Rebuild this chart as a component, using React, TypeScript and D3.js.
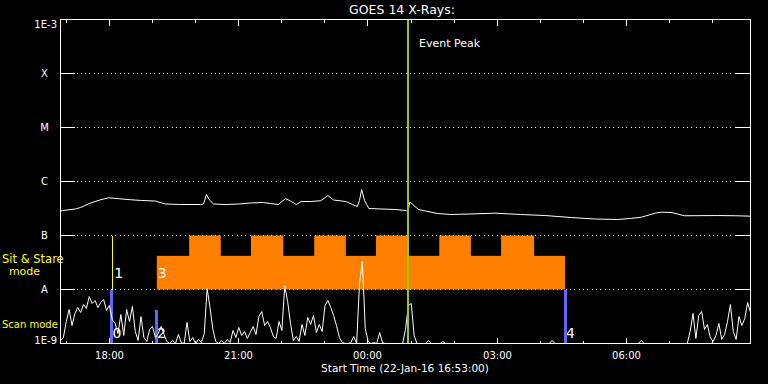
import React from "react";
import * as d3 from "d3";

// ---------- DATA ----------
const START_TIME = "2016-01-22 16:53";
const END_TIME = "2016-01-23 08:53";

const levelValues = [1e-3, 1e-4, 1e-5, 1e-6, 1e-7, 1e-8, 1e-9];
const levelLabels = ["1E-3", "X", "M", "C", "B", "A", "1E-9"];

// long channel (minutes after start, flux W/m^2)
const longMinutes = [0, 3, 21, 28, 42, 56, 67, 81, 97, 113, 132, 146, 167, 195, 199, 203, 207, 213, 230, 248, 264, 281, 292, 303, 313, 320, 328, 335, 348, 362, 372, 380, 397, 406, 413, 416, 419, 423, 429, 445, 466, 481, 483, 486, 490, 498, 508, 525, 543, 570, 604, 640, 675, 711, 744, 775, 793, 808, 828, 836, 850, 868, 914, 939, 960];
const longFlux = [2.8e-7, 2.9e-7, 3.1e-7, 3.3e-7, 4.0e-7, 4.6e-7, 5.0e-7, 4.8e-7, 4.6e-7, 4.45e-7, 4.35e-7, 3.83e-7, 3.75e-7, 3.75e-7, 3.83e-7, 5.74e-7, 4.6e-7, 3.83e-7, 3.75e-7, 3.83e-7, 4.0e-7, 4.08e-7, 3.92e-7, 3.75e-7, 4.84e-7, 4.35e-7, 3.75e-7, 4.26e-7, 4.26e-7, 4.4e-7, 5.5e-7, 4.54e-7, 4.26e-7, 3.75e-7, 3.44e-7, 4.45e-7, 7.1e-7, 4.45e-7, 3.16e-7, 3.1e-7, 3.03e-7, 2.9e-7, 2.7e-7, 4.17e-7, 3.75e-7, 3.03e-7, 2.84e-7, 2.55e-7, 2.45e-7, 2.5e-7, 2.59e-7, 2.45e-7, 2.34e-7, 2.15e-7, 2.02e-7, 1.98e-7, 2.07e-7, 2.18e-7, 2.61e-7, 2.7e-7, 2.67e-7, 2.32e-7, 2.34e-7, 2.32e-7, 2.28e-7];

// short channel, one sample every 4 minutes from start, in units of 1E-9 W/m^2
const shortStepMinutes = 4;
const shortFlux_nW = [
  1.14, 1.29, 2.55, 4.26, 2.15, 3.59, 4.64, 3.75, 5.27, 4.45,
  7.42, 5.50, 6.25, 4.64, 5.74, 6.52, 4.08, 5.05, 2.78, 2.35,
  1.53, 3.44, 1.41, 4.26, 2.55, 4.84, 1.67, 1.14, 3.16, 1.29,
  1.09, 1.82, 2.06, 1.29, 1.53, 2.06, 1.47, 1.09, 0.6, 1.14,
  0.6, 1.47, 1.04, 0.6, 2.45, 1.09, 1.29, 0.6, 1.19, 1.04,
  1.53, 10.4, 4.64, 1.82, 1.09, 0.6, 1.14, 0.6, 1.19, 1.04,
  1.74, 1.29, 1.98, 1.41, 1.67, 1.24, 1.60, 2.06, 1.47, 3.16,
  3.91, 2.15, 2.55, 1.98, 1.35, 1.24, 2.55, 1.74, 11.8, 5.99,
  2.35, 1.14, 1.35, 1.09, 2.25, 1.41, 3.03, 2.25, 3.30, 1.60,
  2.25, 1.67, 5.05, 6.25, 4.64, 3.30, 2.15, 1.29, 1.04, 0.6,
  0.6, 1.04, 1.35, 0.6, 12.9, 33.0, 1.90, 1.09, 0.6, 1.04,
  0.6, 1.60, 1.04, 0.6, 0.6, 0.6, 0.6, 0.6, 0.6, 0.6,
  1.82, 5.05, 5.50, 1.41, 0.6, 0.6, 0.6, 0.6, 1.14, 0.6,
  0.6, 0.6, 0.6, 1.09, 0.6, 0.6, 0.6, 0.6, 0.6, 0.6,
  0.6, 0.6, 0.6, 0.6, 0.6, 0.6, 0.6, 0.6, 0.6, 0.6,
  0.6, 0.6, 0.6, 0.6, 0.6, 0.6, 0.6, 0.6, 0.6, 0.6,
  0.6, 0.6, 0.6, 0.6, 0.6, 0.6, 0.6, 0.6, 0.6, 0.6,
  0.6, 1.14, 0.6, 0.6, 0.6, 0.6, 0.6, 0.6, 0.6, 0.6,
  0.6, 0.6, 0.6, 0.6, 0.6, 0.6, 0.6, 0.6, 0.6, 0.6,
  0.6, 0.6, 0.6, 0.6, 0.6, 0.6, 0.6, 0.6, 0.6, 0.6,
  0.6, 0.6, 1.14, 0.6, 0.6, 0.6, 0.6, 0.6, 0.6, 0.6,
  0.6, 0.6, 0.6, 0.6, 0.6, 0.6, 0.6, 0.6, 0.6, 1.67,
  3.59, 1.24, 3.30, 3.91, 1.82, 2.25, 1.29, 1.09, 1.41, 2.35,
  1.19, 1.47, 2.55, 5.27, 1.67, 1.19, 3.16, 2.15, 2.90, 5.74,
  3.75,
];

// observation windows
const eventPeakTime = "2016-01-23 00:57";
const stareLineTime = "2016-01-22 18:05"; // event 1
const stareBlockStart = "2016-01-22 19:07"; // event 3
const stareBlockEnd = "2016-01-23 04:35";
const rasterStarts = ["2016-01-22 19:52", "2016-01-22 21:18", "2016-01-22 22:46", "2016-01-23 00:12", "2016-01-23 01:40", "2016-01-23 03:06"];
const rasterEnds = ["2016-01-22 20:36", "2016-01-22 22:03", "2016-01-22 23:30", "2016-01-23 00:56", "2016-01-23 02:24", "2016-01-23 03:52"];
const scanTimes = ["2016-01-22 18:04", "2016-01-22 19:06", "2016-01-23 04:35"];
const scanTops = [1e-8, 4.2e-9, 1e-8];
const scanLabels = ["0", "2", "4"];
const stareLevelLow = 1e-8;
const stareLevelMid = 4.2e-8;
const stareLevelHigh = 1e-7;

// ---------- CHART ----------
const W = 768, H = 384;
const L = 60.5, R = 750.5, T = 19.5, B = 343.5;
const FONT = "'DejaVu Sans', sans-serif";

export default function App() {
  const parse = d3.timeParse("%Y-%m-%d %H:%M");
  const t0 = parse(START_TIME)!;
  const t1 = parse(END_TIME)!;
  const x = d3.scaleTime().domain([t0, t1]).range([L, R]);
  const y = d3.scaleLog().domain([1e-9, 1e-3]).range([B, T]).clamp(true);

  const longData = longMinutes.map((m, i) => ({ t: d3.timeMinute.offset(t0, m), v: longFlux[i] }));
  const shortData = shortFlux_nW.map((v, i) => ({ t: d3.timeMinute.offset(t0, i * shortStepMinutes), v: v * 1e-9 }));
  const line = d3.line<{ t: Date; v: number }>().x((d) => x(d.t)).y((d) => y(d.v));

  const hours = d3.timeHour.every(1)!.range(t0, t1);
  const fmt = d3.timeFormat("%H:%M");

  const blockX0 = x(parse(stareBlockStart)!);
  const blockX1 = x(parse(stareBlockEnd)!);
  const peakX = x(parse(eventPeakTime)!);
  const stareX = x(parse(stareLineTime)!);

  return (
    <svg width={W} height={H} style={{ position: "fixed", left: 0, top: 0, background: "#000" }} fontFamily={FONT}>
      <rect x={0} y={0} width={W} height={H} fill="#000" />
      <text x={402} y={14} fill="#fff" fontSize={12.5} textAnchor="middle">GOES 14 X-Rays:</text>

      {/* sit & stare blocks */}
      <rect x={blockX0} y={y(stareLevelMid)} width={blockX1 - blockX0} height={y(stareLevelLow) - y(stareLevelMid)} fill="#ff8000" />
      {rasterStarts.map((s, i) => {
        const a = x(parse(s)!), b = x(parse(rasterEnds[i])!);
        return <rect key={i} x={a} y={y(stareLevelHigh)} width={b - a} height={y(stareLevelMid) - y(stareLevelHigh) + 0.5} fill="#ff8000" />;
      })}

      {/* grid levels */}
      {levelValues.map((v, i) =>
        i === 0 || i === levelValues.length - 1 ? null : (
          <g key={i} shapeRendering="crispEdges">
            <line x1={L} x2={L + 14} y1={y(v)} y2={y(v)} stroke="#fff" />
            <line x1={L + 16} x2={R - 15} y1={y(v)} y2={y(v)} stroke="#fff" strokeDasharray="1 3.33" />
            <line x1={R - 15} x2={R} y1={y(v)} y2={y(v)} stroke="#fff" />
          </g>
        )
      )}

      {/* y labels */}
      {levelLabels.map((s, i) => {
        const yy = i === 0 ? y(levelValues[i]) + 4.5 : i === levelLabels.length - 1 ? y(levelValues[i]) - 3 : y(levelValues[i]);
        const wide = s.length > 1;
        return (
          <text key={i} x={wide ? 57 : 44.5} y={yy} dy="0.36em" fill="#fff" fontSize={10} textAnchor={wide ? "end" : "middle"}>{s}</text>
        );
      })}

      {/* mode labels */}
      <text x={2} y={263} fill="#ffff00" fontSize={11.5}>Sit &amp; Stare</text>
      <text x={24.5} y={275} fill="#ffff00" fontSize={11} textAnchor="middle">mode</text>
      <text x={2} y={328} fill="#ffff00" fontSize={10}>Scan mode</text>

      {/* event 1 stare line */}
      <line x1={stareX} x2={stareX} y1={y(stareLevelHigh)} y2={y(stareLevelLow)} stroke="#ffff00" strokeWidth={1} shapeRendering="crispEdges" />
      <text x={stareX + 2} y={278} fill="#fff" fontSize={14}>1</text>
      <text x={blockX0 + 1} y={278} fill="#fff" fontSize={14}>3</text>

      {/* scan labels and bars */}
      {scanTimes.map((s, i) => (
        <text key={"l" + i} x={x(parse(s)!) + 1} y={338} fill="#fff" fontSize={14}>{scanLabels[i]}</text>
      ))}
      {scanTimes.map((s, i) => (
        <line key={"b" + i} x1={x(parse(s)!)} x2={x(parse(s)!)} y1={y(scanTops[i])} y2={B} stroke="#6464ff" strokeWidth={3} shapeRendering="crispEdges" />
      ))}

      {/* data */}
      <path d={line(longData)!} fill="none" stroke="#fff" strokeWidth={1} />
      <path d={line(shortData)!} fill="none" stroke="#fff" strokeWidth={1} />

      {/* event peak */}
      <line x1={peakX} x2={peakX} y1={T} y2={B} stroke="#99cc00" strokeWidth={2} shapeRendering="crispEdges" />
      <text x={419} y={47} fill="#fff" fontSize={11}>Event Peak</text>

      {/* frame */}
      <rect x={L} y={T} width={R - L} height={B - T} fill="none" stroke="#fff" shapeRendering="crispEdges" />

      {/* time ticks */}
      {hours.map((h, i) => {
        const major = h.getHours() % 3 === 0;
        const len = major ? 6 : 3;
        const xx = Math.round(x(h)) + 0.5;
        return (
          <g key={i} shapeRendering="crispEdges">
            <line x1={xx} x2={xx} y1={T} y2={T + len} stroke="#fff" />
            <line x1={xx} x2={xx} y1={B} y2={B - len} stroke="#fff" />
            {major && (
              <text x={xx} y={359} fill="#fff" fontSize={10} textAnchor="middle">{fmt(h)}</text>
            )}
          </g>
        );
      })}
      <text x={405} y={372} fill="#fff" fontSize={10.5} textAnchor="middle">Start Time (22-Jan-16 16:53:00)</text>
    </svg>
  );
}
